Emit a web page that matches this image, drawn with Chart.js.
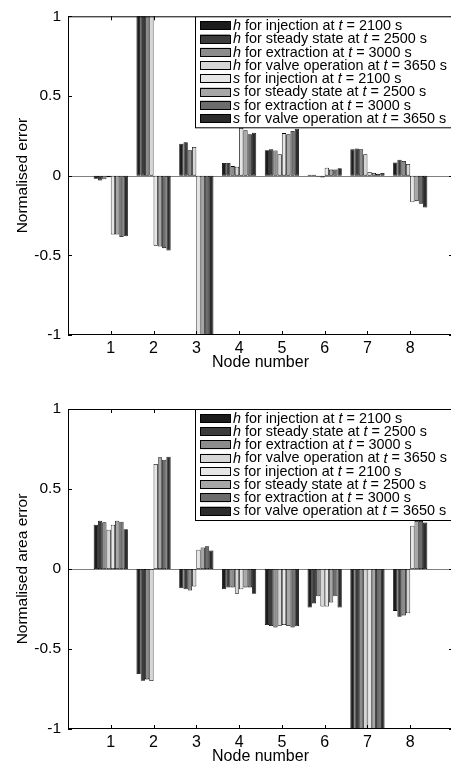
<!DOCTYPE html>
<html>
<head>
<meta charset="utf-8">
<script src="https://cdn.jsdelivr.net/npm/chart.js@4.4.0/dist/chart.umd.min.js"></script>
<style>
  body { margin: 0; background: #fff; overflow: hidden; width: 451px; height: 766px; position: relative; }
  canvas { position: absolute; left: 0; }
  #errChart { top: 0; }
  #areaChart { top: 383px; }
</style>
</head>
<body>
<canvas id="errChart" width="456" height="383"></canvas>
<canvas id="areaChart" width="456" height="383"></canvas>
<script>
const nodes = [1, 2, 3, 4, 5, 6, 7, 8];
const yTicks = [-1, -0.5, 0, 0.5, 1];
const seriesLabels = [
  "h for injection at t = 2100 s",
  "h for steady state at t = 2500 s",
  "h for extraction at t = 3000 s",
  "h for valve operation at t = 3650 s",
  "s for injection at t = 2100 s",
  "s for steady state at t = 2500 s",
  "s for extraction at t = 3000 s",
  "s for valve operation at t = 3650 s"
];
const seriesColors = ["#1c1c1c", "#3c3c3c", "#8c8c8c", "#d6d6d6", "#e6e6e6", "#a6a6a6", "#6c6c6c", "#2c2c2c"];

// normalised error (top); values past +/-1 run off the axes
const errHInj    = [-0.02, 1.2, 0.20, 0.080, 0.160, 0.005, 0.165, 0.083];
const errHSteady = [-0.03, 1.2, 0.21, 0.080, 0.165, 0.005, 0.170, 0.100];
const errHExtr   = [-0.023, 1.2, 0.16, 0.060, 0.158, -0.005, 0.165, 0.092];
const errHValve  = [-0.01, 1.2, 0.18, 0.056, 0.135, -0.012, 0.135, 0.073];
const errSInj    = [-0.37, -0.44, -1.2, 0.300, 0.267, 0.050, 0.023, -0.167];
const errSSteady = [-0.37, -0.445, -1.2, 0.285, 0.260, 0.038, 0.017, -0.160];
const errSExtr   = [-0.385, -0.455, -1.2, 0.260, 0.280, 0.038, 0.012, -0.177];
const errSValve  = [-0.38, -0.47, -1.2, 0.270, 0.294, 0.046, 0.017, -0.200];

// normalised area error (bottom)
const areaHInj    = [0.277, -0.656, -0.120, -0.127, -0.350, -0.240, -1.2, -0.262];
const areaHSteady = [0.302, -0.698, -0.127, -0.115, -0.356, -0.215, -1.2, -0.298];
const areaHExtr   = [0.292, -0.690, -0.135, -0.115, -0.365, -0.170, -1.2, -0.290];
const areaHValve  = [0.246, -0.700, -0.110, -0.155, -0.355, -0.235, -1.2, -0.277];
const areaSInj    = [0.277, 0.656, 0.120, -0.127, -0.350, -0.235, -1.2, 0.270];
const areaSSteady = [0.302, 0.698, 0.135, -0.115, -0.356, -0.210, -1.2, 0.300];
const areaSExtr   = [0.296, 0.683, 0.142, -0.115, -0.365, -0.170, -1.2, 0.300];
const areaSValve  = [0.248, 0.702, 0.115, -0.155, -0.358, -0.240, -1.2, 0.290];

const errSeries = [errHInj, errHSteady, errHExtr, errHValve, errSInj, errSSteady, errSExtr, errSValve];
const areaSeries = [areaHInj, areaHSteady, areaHExtr, areaHValve, areaSInj, areaSSteady, areaSExtr, areaSValve];

const fam = '"Liberation Sans", Arial, sans-serif';

// h/s and the t are italic in the legend
function labelParts(label) {
  const k = label.lastIndexOf("t =");
  return [
    { text: label[0], it: true },
    { text: label.slice(1, k), it: false },
    { text: "t", it: true },
    { text: label.slice(k + 1), it: false }
  ];
}

const framePlugin = {
  id: "frame",
  beforeDatasetsDraw(chart) {
    const { ctx, chartArea: a, scales: { y } } = chart;
    const y0 = Math.round(y.getPixelForValue(0)) + 0.5;
    ctx.save();
    ctx.strokeStyle = "#808080";
    ctx.lineWidth = 1;
    ctx.beginPath();
    ctx.moveTo(a.left, y0);
    ctx.lineTo(a.right, y0);
    ctx.stroke();
    ctx.restore();
  },
  afterDraw(chart, args, opts) {
    const { ctx, chartArea: a, scales: { x, y } } = chart;
    ctx.save();
    ctx.strokeStyle = "#000";
    ctx.lineWidth = 1;
    ctx.strokeRect(a.left + 0.5, a.top + 0.5, a.right - a.left - 1, a.bottom - a.top - 1);
    ctx.beginPath();
    nodes.forEach(n => {
      const px = Math.round(x.getPixelForValue(n)) + 0.5;
      ctx.moveTo(px, a.bottom); ctx.lineTo(px, a.bottom - 4);
      ctx.moveTo(px, a.top); ctx.lineTo(px, a.top + 4);
    });
    yTicks.forEach(v => {
      const py = Math.round(y.getPixelForValue(v)) + 0.5;
      ctx.moveTo(a.left, py); ctx.lineTo(a.left + 4, py);
      ctx.moveTo(a.right, py); ctx.lineTo(a.right - 4, py);
    });
    ctx.stroke();

    // axis titles
    ctx.fillStyle = "#000";
    ctx.font = "16px " + fam;
    ctx.textAlign = "center";
    ctx.textBaseline = "alphabetic";
    ctx.fillText("Node number", (a.left + a.right) / 2, a.bottom + 32);
    ctx.save();
    ctx.translate(27, (a.top + a.bottom) / 2);
    ctx.rotate(-Math.PI / 2);
    ctx.font = "15.5px " + fam;
    ctx.fillText(opts.yTitle, 0, 0);
    ctx.restore();

    // legend box
    const bx = 195, by = a.top, bh = 111;
    ctx.fillStyle = "#fff";
    ctx.fillRect(bx, by, 262, bh);
    ctx.strokeRect(bx + 0.5, by + 0.5, 262, bh);
    ctx.textAlign = "left";
    ctx.textBaseline = "middle";
    chart.data.datasets.forEach((ds, i) => {
      const cy = by + 9.3 + i * 13.24;
      ctx.fillStyle = ds.backgroundColor;
      ctx.fillRect(200, cy - 4.3, 30, 8.7);
      ctx.strokeRect(200.5, Math.round(cy - 4.3) + 0.5, 30, 8);
      ctx.fillStyle = "#000";
      let tx = 233;
      labelParts(ds.label).forEach(p => {
        ctx.font = (p.it ? "italic " : "") + "14.4px " + fam;
        ctx.fillText(p.text, tx, cy + 0.5);
        tx += ctx.measureText(p.text).width;
      });
    });
    ctx.restore();
  }
};

function makeChart(id, series, yTitle, padTop, xHeight) {
  new Chart(document.getElementById(id), {
    type: "bar",
    data: {
      datasets: series.map((vals, i) => ({
        label: seriesLabels[i],
        data: nodes.map((n, j) => ({ x: n, y: vals[j] })),
        backgroundColor: seriesColors[i],
        borderColor: "#000",
        borderWidth: 0.8,
        borderSkipped: false,
        clip: 0
      }))
    },
    options: {
      responsive: false,
      devicePixelRatio: 1,
      animation: false,
      layout: { padding: { top: padTop, right: 3, left: 0, bottom: 0 } },
      datasets: { bar: { categoryPercentage: 0.8, barPercentage: 1 } },
      plugins: {
        legend: { display: false },
        tooltip: { enabled: false },
        frame: { yTitle: yTitle }
      },
      scales: {
        x: {
          type: "linear",
          min: 0,
          max: 9,
          offset: false,
          grid: { display: false, drawTicks: false },
          border: { display: false },
          afterFit: s => { s.height = xHeight; },
          afterBuildTicks: s => { s.ticks = nodes.map(n => ({ value: n })); },
          ticks: {
            autoSkip: false,
            maxRotation: 0,
            padding: 4,
            color: "#000",
            font: { family: fam, size: 16 },
            callback: v => String(v)
          }
        },
        y: {
          min: -1,
          max: 1,
          grid: { display: false, drawTicks: false },
          border: { display: false },
          afterFit: s => { s.width = 68; },
          afterBuildTicks: s => { s.ticks = yTicks.map(v => ({ value: v })); },
          ticks: {
            padding: 7,
            color: "#000",
            font: { family: fam, size: 15.5 },
            callback: v => String(v)
          }
        }
      }
    },
    plugins: [framePlugin]
  });
}

makeChart("errChart", errSeries, "Normalised error", 16, 48);
makeChart("areaChart", areaSeries, "Normalised area error", 26, 37);
</script>
</body>
</html>
